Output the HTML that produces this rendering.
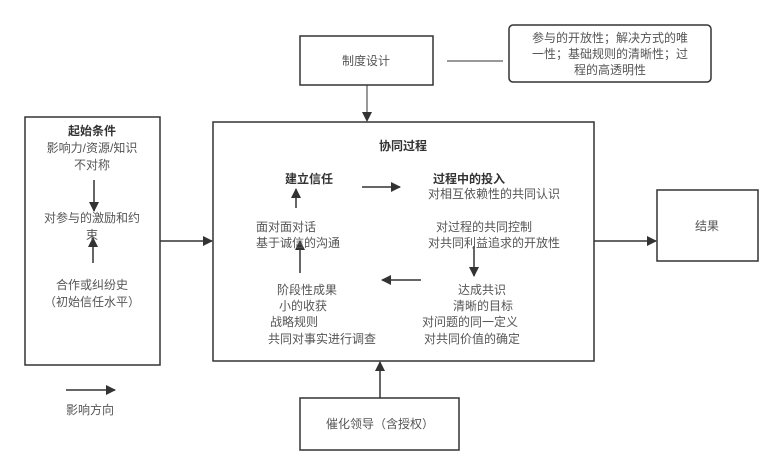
<!DOCTYPE html>
<html><head><meta charset="utf-8"><style>
html,body{margin:0;padding:0;background:#fff;width:772px;height:475px;overflow:hidden}
svg{display:block}
text{font-family:"Liberation Sans","Noto Sans CJK SC",sans-serif;font-size:12px;fill:#555}
.b{font-weight:bold;fill:#333}
</style></head><body>
<svg width="772" height="475" viewBox="0 0 772 475">
<defs><marker id="a" markerWidth="10" markerHeight="10" refX="9" refY="5" orient="auto" markerUnits="userSpaceOnUse"><path d="M0,0 L10,5 L0,10 z" fill="#333"/></marker></defs>
<g fill="none" stroke="#333" stroke-width="1.5">
<rect x="300" y="36" width="133" height="49"/>
<rect x="509" y="25" width="202" height="57" rx="4"/>
<rect x="213" y="122" width="381" height="239"/>
<rect x="25" y="117" width="135" height="248"/>
<rect x="657" y="190" width="101" height="71"/>
<rect x="300" y="398" width="159" height="52"/>
<line x1="447" y1="61" x2="503" y2="61" stroke-width="1"/>
<line x1="367" y1="85" x2="367" y2="121" marker-end="url(#a)" stroke-width="1"/>
<line x1="160" y1="241" x2="212" y2="241" marker-end="url(#a)"/>
<line x1="594" y1="241" x2="656" y2="241" marker-end="url(#a)"/>
<line x1="380" y1="398" x2="380" y2="362" marker-end="url(#a)"/>
<line x1="66" y1="390" x2="115" y2="390" marker-end="url(#a)"/>
<line x1="94" y1="180" x2="94" y2="211" marker-end="url(#a)"/>
<line x1="93" y1="263" x2="93" y2="238" marker-end="url(#a)"/>
<line x1="362" y1="187" x2="400" y2="187" marker-end="url(#a)"/>
<line x1="296" y1="208" x2="296" y2="189" marker-end="url(#a)"/>
<line x1="300" y1="273" x2="300" y2="241" marker-end="url(#a)"/>
<line x1="474" y1="246" x2="474" y2="276" marker-end="url(#a)"/>
<line x1="421" y1="280" x2="382" y2="280" marker-end="url(#a)"/>
</g>
<text x="366" y="65" text-anchor="middle">制度设计</text>
<text x="610" y="42" text-anchor="middle">参与的开放性；解决方式的唯</text>
<text x="610" y="58" text-anchor="middle">一性；基础规则的清晰性；过</text>
<text x="610" y="74" text-anchor="middle">程的高透明性</text>
<text x="92" y="135" text-anchor="middle" class="b">起始条件</text>
<text x="92" y="152" text-anchor="middle">影响力/资源/知识</text>
<text x="92" y="169" text-anchor="middle">不对称</text>
<text x="92" y="222" text-anchor="middle">对参与的激励和约</text>
<text x="92" y="239" text-anchor="middle">束</text>
<text x="92" y="289" text-anchor="middle">合作或纠纷史</text>
<text x="92" y="306" text-anchor="middle">（初始信任水平）</text>
<text x="90" y="414" text-anchor="middle">影响方向</text>
<text x="707" y="230" text-anchor="middle">结果</text>
<text x="380" y="428" text-anchor="middle">催化领导（含授权）</text>
<text x="403" y="150" text-anchor="middle" class="b">协同过程</text>
<text x="285" y="183" class="b">建立信任</text>
<text x="433" y="183" class="b">过程中的投入</text>
<text x="428" y="198">对相互依赖性的共同认识</text>
<text x="256" y="231">面对面对话</text>
<text x="256" y="247">基于诚信的沟通</text>
<text x="436" y="231">对过程的共同控制</text>
<text x="428" y="247">对共同利益追求的开放性</text>
<text x="277" y="294">阶段性成果</text>
<text x="279" y="310">小的收获</text>
<text x="270" y="326">战略规则</text>
<text x="268" y="343">共同对事实进行调查</text>
<text x="458" y="294">达成共识</text>
<text x="453" y="310">清晰的目标</text>
<text x="422" y="326">对问题的同一定义</text>
<text x="424" y="343">对共同价值的确定</text>
</svg>
</body></html>
